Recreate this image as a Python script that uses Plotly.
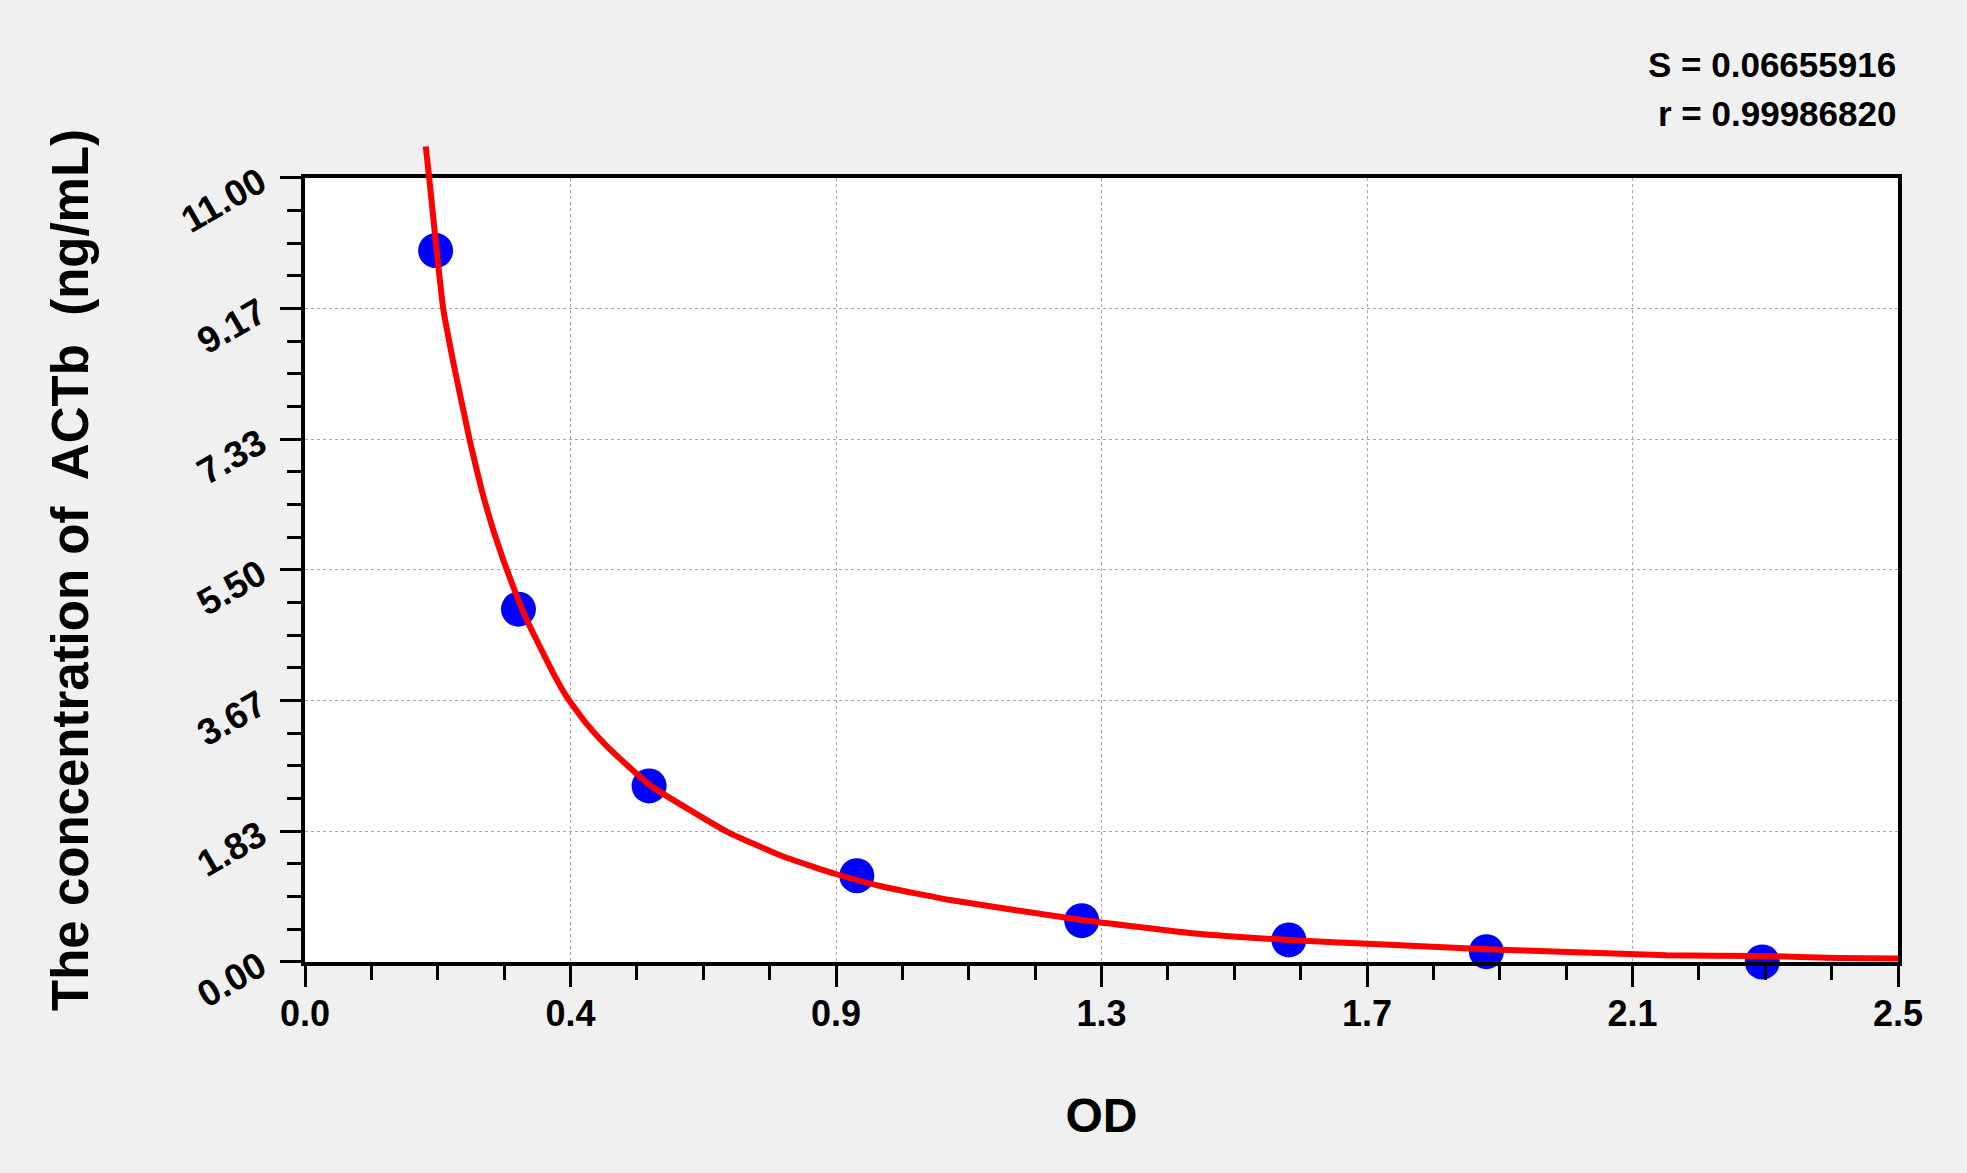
import plotly.graph_objects as go

# standards
od = [0.205, 0.335, 0.540, 0.866, 1.219, 1.544, 1.854, 2.287]
conc = [9.98, 4.95, 2.47, 1.21, 0.58, 0.31, 0.145, 0.0]

# fitted curve, points picked along the red line
fit_od = [0.1895, 0.1955, 0.2065, 0.217, 0.233, 0.259, 0.2773, 0.2955, 0.3112,
          0.3269, 0.3479, 0.3688, 0.3897, 0.4107, 0.442, 0.4735, 0.5414, 0.6618, 0.7506,
          0.829, 0.9075, 1.012, 1.219, 1.397, 1.544, 1.685, 1.854, 1.972, 2.136,
          2.287, 2.405, 2.5]
fit_conc = [11.44, 10.95, 9.99, 9.16, 8.40, 7.30, 6.62, 6.06, 5.64,
            5.26, 4.80, 4.42, 4.05, 3.72, 3.34, 3.03, 2.48, 1.83, 1.48,
            1.245, 1.056, 0.87, 0.59, 0.40, 0.309, 0.248, 0.178, 0.145, 0.094,
            0.085, 0.056, 0.05]

x_ticks = [0, 2.5/6, 2*2.5/6, 3*2.5/6, 4*2.5/6, 5*2.5/6, 2.5]
x_labels = ['0.0', '0.4', '0.9', '1.3', '1.7', '2.1', '2.5']
y_ticks = [0, 11/6, 2*11/6, 3*11/6, 4*11/6, 5*11/6, 11]
y_labels = ['0.00', '1.83', '3.67', '5.50', '7.33', '9.17', '11.00']

stats = ['S = 0.06655916', 'r = 0.99986820']

x_max = 2.5
y_max = 11
y_top = 11.7  # room for the curve poking out above the frame

FONT = 'Liberation Sans, Arial, sans-serif'
BG = '#F0F0F0'

fig = go.Figure()
fig.add_trace(go.Scatter(x=od, y=conc, mode='markers', cliponaxis=False,
                         marker=dict(size=35, color='#0000FF', line=dict(width=0)),
                         xaxis='x', yaxis='y', showlegend=False))
fig.add_trace(go.Scatter(x=fit_od, y=fit_conc, mode='lines',
                         line=dict(color='#FF0000', width=6, shape='spline', smoothing=0.4),
                         xaxis='x2', yaxis='y2', showlegend=False))

tick_common = dict(ticks='outside', ticklen=21, tickwidth=3, tickcolor='black',
                   showline=True, linewidth=3.5, linecolor='black', mirror=True,
                   showgrid=True, gridcolor='#A8A8A8', griddash='dot', gridwidth=1,
                   zeroline=False)

fig.update_layout(
    width=1967, height=1173,
    paper_bgcolor=BG, plot_bgcolor='rgba(0,0,0,0)',
    margin=dict(l=305, r=69, t=128, b=211),
    xaxis=dict(range=[0, x_max], tickmode='array', tickvals=x_ticks, ticktext=x_labels,
               tickfont=dict(family=FONT, size=36, color='black', weight='bold'),
               ticklabelstandoff=-4,
               minor=dict(tickmode='linear', tick0=0, dtick=x_max/24, ticks='outside',
                          ticklen=14, tickwidth=3, tickcolor='black', showgrid=False),
               title=dict(text='OD', standoff=66,
                          font=dict(family=FONT, size=48, color='black', weight='bold')),
               anchor='y', **tick_common),
    yaxis=dict(range=[0, y_max], domain=[0, y_max/y_top], tickmode='array',
               tickvals=y_ticks, ticktext=y_labels, tickangle=-30,
               tickfont=dict(family=FONT, size=37, color='black', weight='bold'),
               ticklabelstandoff=13,
               minor=dict(tickmode='linear', tick0=0, dtick=y_max/24, ticks='outside',
                          ticklen=14, tickwidth=3, tickcolor='black', showgrid=False),
               title=dict(text='The concentration of&nbsp; ACTb&nbsp; (ng/mL)', standoff=70,
                          font=dict(family=FONT, size=51, color='black', weight='bold')),
               anchor='x', **tick_common),
    xaxis2=dict(range=[0, x_max], domain=[0, 1], anchor='y2', visible=False,
                showgrid=False, zeroline=False),
    yaxis2=dict(range=[0, y_top], domain=[0, 1], anchor='x2', visible=False,
                showgrid=False, zeroline=False),
)

# white plotting area inside the frame only
fig.add_shape(type='rect', xref='x', yref='y', x0=0, x1=x_max, y0=0, y1=y_max,
              fillcolor='white', line=dict(width=0), layer='below')

for i, s in enumerate(stats):
    fig.add_annotation(text=s, xref='paper', yref='paper', x=1, y=1.076 - i*0.059,
                       xanchor='right', yanchor='middle', showarrow=False,
                       font=dict(family=FONT, size=35, color='black', weight='bold'))

fig.write_html('out.html', config={'displayModeBar': False},
               post_script="document.body.style.margin='0';document.body.style.background='#F0F0F0';")
